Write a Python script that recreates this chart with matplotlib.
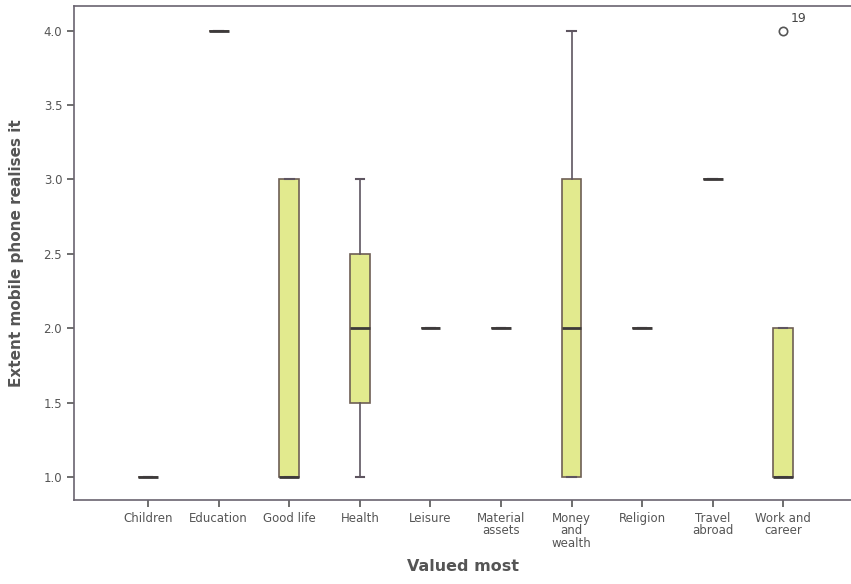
import matplotlib
matplotlib.use("Agg")
import matplotlib.pyplot as plt

categories = ["Children", "Education", "Good life", "Health", "Leisure",
              "Material\nassets", "Money\nand\nwealth", "Religion",
              "Travel\nabroad", "Work and\ncareer"]
q1 =      [1.0, 4.0, 1.0, 1.5, 2.0, 2.0, 1.0, 2.0, 3.0, 1.0]
medians = [1.0, 4.0, 1.0, 2.0, 2.0, 2.0, 2.0, 2.0, 3.0, 1.0]
q3 =      [1.0, 4.0, 3.0, 2.5, 2.0, 2.0, 3.0, 2.0, 3.0, 2.0]
whislo =  [1.0, 4.0, 1.0, 1.0, 2.0, 2.0, 1.0, 2.0, 3.0, 1.0]
whishi =  [1.0, 4.0, 3.0, 3.0, 2.0, 2.0, 4.0, 2.0, 3.0, 2.0]
outliers = [[], [], [], [], [], [], [], [], [], [4.0]]
outlier_ids = {9: "19"}
yticks = [1.0, 1.5, 2.0, 2.5, 3.0, 3.5, 4.0]

stats = []
for i, name in enumerate(categories):
    stats.append(dict(label=name, q1=q1[i], med=medians[i], q3=q3[i],
                      whislo=whislo[i], whishi=whishi[i], fliers=outliers[i]))

fig = plt.figure(figsize=(8.51, 5.84), dpi=100)
ax = fig.add_axes([0.087, 0.144, 0.913, 0.846])

edge = "#6e5f55"
positions = list(range(1, len(categories) + 1))
ax.bxp(stats, positions=positions, widths=0.28, patch_artist=True,
       boxprops=dict(facecolor="#e2ea8e", edgecolor=edge, linewidth=1.2),
       medianprops=dict(color="#3d3a3a", linewidth=2.0),
       whiskerprops=dict(color="#5e5560", linewidth=1.2),
       capprops=dict(color="#5e5560", linewidth=1.5),
       capwidths=0.12,
       flierprops=dict(marker="o", markerfacecolor="none",
                       markeredgecolor="#555555", markersize=6,
                       markeredgewidth=1.2))

for idx, txt in outlier_ids.items():
    for v in outliers[idx]:
        ax.annotate(txt, (positions[idx], v), xytext=(5, 6),
                    textcoords="offset points", fontsize=9, color="#444444")

ax.set_xlim(-0.05, 10.96)
ax.set_ylim(0.845, 4.168)
ax.set_yticks(yticks)
ax.set_yticklabels([f"{t:.1f}" for t in yticks])
ax.set_xticks(positions)
ax.set_xticklabels(categories, linespacing=0.95)

ax.tick_params(axis="both", direction="out", length=5, width=1.2,
               colors="#555555", labelsize=8.5, labelcolor="#555555")
for side in ["left", "bottom", "top"]:
    ax.spines[side].set_color("#6a6470")
    ax.spines[side].set_linewidth(1.2)
ax.spines["right"].set_visible(False)

ax.set_ylabel("Extent mobile phone realises it", fontsize=11,
              fontweight="bold", color="#555555", labelpad=14)
ax.set_xlabel("Valued most", fontsize=11.5, fontweight="bold",
              color="#555555", labelpad=7)

fig.savefig("out.png", dpi=100)
